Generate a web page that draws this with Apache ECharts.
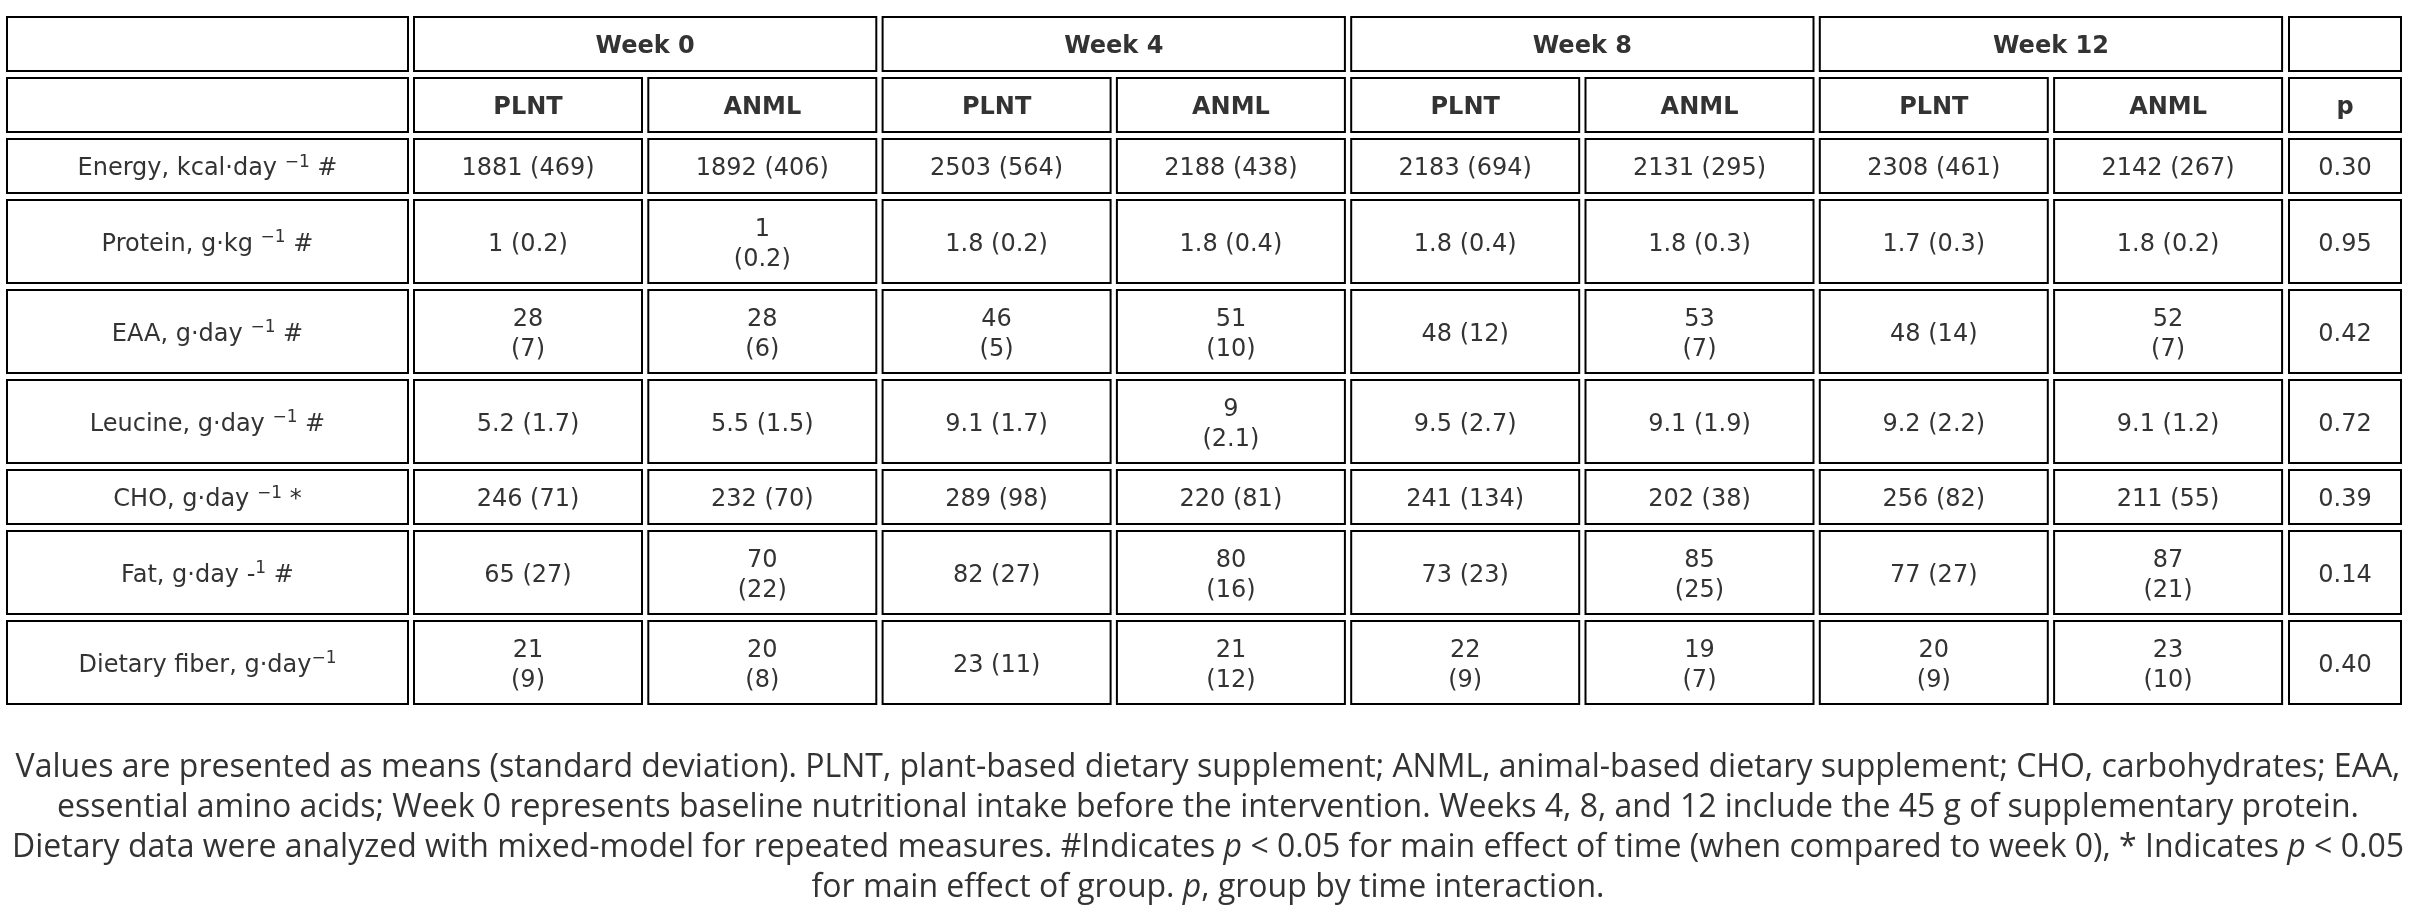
<!DOCTYPE html>
<html>
<head>
<meta charset="utf-8">
<script src="https://cdn.jsdelivr.net/npm/echarts@6/dist/echarts.min.js"></script>
<style>
  html, body { margin: 0; padding: 0; background: #fff; }
  #main { width: 2416px; height: 914px; }
</style>
</head>
<body>
<div id="main"></div>
<script>
// ---- table data ----
var weeks = ['Week 0', 'Week 4', 'Week 8', 'Week 12'];
var groups = ['PLNT', 'ANML'];
var pHeader = 'p';

// {..} marks a superscript
var nutrients = [
  'Energy, kcal·day {−1} #',
  'Protein, g·kg {−1} #',
  'EAA, g·day {−1} #',
  'Leucine, g·day {−1} #',
  'CHO, g·day {−1} *',
  'Fat, g·day -{1} #',
  'Dietary fiber, g·day{−1}'
];

// mean (sd), order: PLNT0 ANML0 PLNT4 ANML4 PLNT8 ANML8 PLNT12 ANML12
var energy  = ['1881 (469)', '1892 (406)', '2503 (564)', '2188 (438)', '2183 (694)', '2131 (295)', '2308 (461)', '2142 (267)'];
var protein = ['1 (0.2)', '1 (0.2)', '1.8 (0.2)', '1.8 (0.4)', '1.8 (0.4)', '1.8 (0.3)', '1.7 (0.3)', '1.8 (0.2)'];
var eaa     = ['28 (7)', '28 (6)', '46 (5)', '51 (10)', '48 (12)', '53 (7)', '48 (14)', '52 (7)'];
var leucine = ['5.2 (1.7)', '5.5 (1.5)', '9.1 (1.7)', '9 (2.1)', '9.5 (2.7)', '9.1 (1.9)', '9.2 (2.2)', '9.1 (1.2)'];
var cho     = ['246 (71)', '232 (70)', '289 (98)', '220 (81)', '241 (134)', '202 (38)', '256 (82)', '211 (55)'];
var fat     = ['65 (27)', '70 (22)', '82 (27)', '80 (16)', '73 (23)', '85 (25)', '77 (27)', '87 (21)'];
var fiber   = ['21 (9)', '20 (8)', '23 (11)', '21 (12)', '22 (9)', '19 (7)', '20 (9)', '23 (10)'];
var pValues = ['0.30', '0.95', '0.42', '0.72', '0.39', '0.14', '0.40'];

var rowsData = [energy, protein, eaa, leucine, cho, fat, fiber];

// cells where the original table wraps the sd onto a second line
var wrapped = [[], [1], [0, 1, 2, 3, 5, 7], [3], [], [1, 3, 5, 7], [0, 1, 3, 4, 5, 6, 7]];

var footnote = [
  'Values are presented as means (standard deviation). PLNT, plant-based dietary supplement; ANML, animal-based dietary supplement; CHO, carbohydrates; EAA,',
  'essential amino acids; Week 0 represents baseline nutritional intake before the intervention. Weeks 4, 8, and 12 include the 45 g of supplementary protein.',
  'Dietary data were analyzed with mixed-model for repeated measures. #Indicates {i|p} < 0.05 for main effect of time (when compared to week 0), * Indicates {i|p} < 0.05',
  'for main effect of group. {i|p}, group by time interaction.'
];

// ---- layout ----
var X0 = 6, LABEL_W = 403, COL_X = 413, COL_STEP = 234.3, COL_W = 230, P_X = 2288, P_W = 114;
var Y0 = 16, GAP = 5, H1 = 56, H2 = 85;
var FONT = 'DejaVu Sans';
var INK = '#333';

function colLeft(c) {
  if (c === 0) return X0;
  if (c === 9) return P_X;
  return COL_X + (c - 1) * COL_STEP;
}
function colRight(c) {
  if (c === 0) return X0 + LABEL_W;
  if (c === 9) return P_X + P_W;
  return colLeft(c) + COL_W;
}

function richLabel(s) {
  return s.split(/(\{[^}]*\})/).filter(function (t) { return t.length; }).map(function (t) {
    return t.charAt(0) === '{' ? '{s|' + t.slice(1, -1) + '}' : '{a|' + t + '}';
  }).join('');
}

var cells = [];
var rowTop = Y0;
function addRow(height, items) {
  items.forEach(function (it) {
    cells.push({
      value: [colLeft(it.c0), rowTop, colRight(it.c1), rowTop + height],
      text: it.text, bold: !!it.bold, rich: !!it.rich
    });
  });
  rowTop += height + GAP;
}

// header row 1
var h1 = [{ c0: 0, c1: 0, text: '' }];
weeks.forEach(function (w, i) { h1.push({ c0: 1 + i * 2, c1: 2 + i * 2, text: w, bold: true }); });
h1.push({ c0: 9, c1: 9, text: '' });
addRow(H1, h1);

// header row 2
var h2 = [{ c0: 0, c1: 0, text: '' }];
weeks.forEach(function (w, i) {
  groups.forEach(function (g, j) { h2.push({ c0: 1 + i * 2 + j, c1: 1 + i * 2 + j, text: g, bold: true }); });
});
h2.push({ c0: 9, c1: 9, text: pHeader, bold: true });
addRow(H1, h2);

// body rows
rowsData.forEach(function (vals, r) {
  var items = [{ c0: 0, c1: 0, text: richLabel(nutrients[r]), rich: true }];
  vals.forEach(function (v, k) {
    var t = wrapped[r].indexOf(k) >= 0 ? v.replace(' ', '\n') : v;
    items.push({ c0: k + 1, c1: k + 1, text: t });
  });
  items.push({ c0: 9, c1: 9, text: pValues[r] });
  addRow(wrapped[r].length ? H2 : H1, items);
});

var chartDom = document.getElementById('main');
var myChart = echarts.init(chartDom);
var option;

option = {
  animation: false,
  grid: { left: 0, right: 0, top: 0, bottom: 0 },
  xAxis: { type: 'value', min: 0, max: 2416, show: false },
  yAxis: { type: 'value', min: 0, max: 914, inverse: true, show: false },
  graphic: [{
    type: 'text',
    x: 1208,
    y: 748,
    style: {
      text: footnote.join('\n'),
      align: 'center',
      verticalAlign: 'top',
      fontFamily: 'Open Sans',
      fontSize: 32,
      lineHeight: 40,
      fill: INK,
      rich: {
        i: { fontFamily: 'Open Sans', fontSize: 32, lineHeight: 40, fontStyle: 'italic', fill: INK }
      }
    }
  }],
  series: [{
    type: 'custom',
    coordinateSystem: 'cartesian2d',
    encode: { x: [0, 2], y: [1, 3] },
    data: cells.map(function (c) { return c.value; }),
    renderItem: function (params, api) {
      var cell = cells[params.dataIndex];
      var p0 = api.coord([api.value(0), api.value(1)]);
      var p1 = api.coord([api.value(2), api.value(3)]);
      var w = p1[0] - p0[0], h = p1[1] - p0[1];
      var textStyle = {
        text: cell.text,
        x: p0[0] + w / 2,
        y: p0[1] + h / 2 + 3,
        align: 'center',
        verticalAlign: 'middle',
        fontFamily: FONT,
        fontSize: 24,
        fontWeight: cell.bold ? 'bold' : 'normal',
        lineHeight: 30,
        fill: INK
      };
      if (cell.rich) {
        textStyle.rich = {
          a: { fontFamily: FONT, fontSize: 24, lineHeight: 30, fill: INK },
          s: { fontFamily: FONT, fontSize: 17, lineHeight: 17, fill: INK, verticalAlign: 'top' }
        };
      }
      return {
        type: 'group',
        children: [{
          type: 'rect',
          shape: { x: p0[0] + 1, y: p0[1] + 1, width: w - 2, height: h - 2 },
          style: { fill: '#fff', stroke: '#000', lineWidth: 2 }
        }, {
          type: 'text',
          style: textStyle
        }]
      };
    }
  }]
};

option && myChart.setOption(option);
</script>
</body>
</html>
